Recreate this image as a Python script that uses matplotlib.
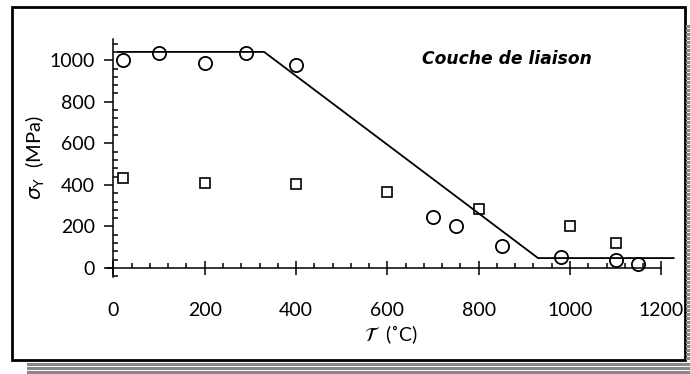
import matplotlib
matplotlib.use("Agg")
import matplotlib.pyplot as plt
from matplotlib.patches import Rectangle
from matplotlib.lines import Line2D
from matplotlib.ticker import MultipleLocator

# data
T_circ = [20, 100, 200, 290, 400, 700, 750, 850, 980, 1100, 1150]
S_circ = [1003, 1033, 987, 1033, 978, 247, 203, 104, 51, 41, 21]
T_sq = [20, 200, 400, 600, 800, 1000, 1100]
S_sq = [431, 411, 405, 367, 285, 204, 121]
T_fit = [10, 330, 930, 1227]
S_fit = [1040, 1040, 48, 48]

W, H = 690, 374
fig = plt.figure(figsize=(W / 100, H / 100), dpi=100)

def fx(px):
    return px / W

def fy(py):
    return 1 - py / H

# outer frame with grey shadow stripes
fig.add_artist(Rectangle((fx(12), fy(360)), fx(685) - fx(12), fy(7) - fy(360),
                         transform=fig.transFigure, fill=False, ec='black', lw=2))
for y in [363.5, 367.5, 371.5]:
    fig.add_artist(Line2D([fx(28), fx(690)], [fy(y), fy(y)], transform=fig.transFigure,
                          color='#888888', lw=2.2))
for y in range(26, 360, 4):
    fig.add_artist(Line2D([fx(686.5), fx(690)], [fy(y), fy(y)], transform=fig.transFigure,
                          color='#888888', lw=2.2))

ax = fig.add_axes([fx(106.6), fy(277.4), fx(675) - fx(106.6), fy(38.4) - fy(277.4)])
ax.set_xlim(-15, 1230)
ax.set_ylim(-45, 1105)

ax.plot(T_fit, S_fit, '-', color='black', lw=1.3)
ax.plot(T_circ, S_circ, 'o', mfc='none', mec='black', ms=9.5, mew=1.3)
ax.plot(T_sq, S_sq, 's', mfc='none', mec='black', ms=6.5, mew=1.2)

for s in ['top', 'right']:
    ax.spines[s].set_visible(False)
ax.spines['left'].set_position(('data', 0))
ax.spines['bottom'].set_position(('data', 0))
ax.spines['left'].set_bounds(-42, 1100)
ax.spines['bottom'].set_bounds(-15, 1200)
ax.spines['left'].set_linewidth(1.1)
ax.spines['bottom'].set_linewidth(1.1)

ax.xaxis.set_major_locator(MultipleLocator(200))
ax.xaxis.set_minor_locator(MultipleLocator(40))
ax.yaxis.set_major_locator(MultipleLocator(200))
ax.yaxis.set_minor_locator(MultipleLocator(40))

ax.tick_params(axis='x', which='major', direction='inout', length=9.5, width=1.1, pad=20,
               labelsize=14)
ax.tick_params(axis='x', which='minor', direction='in', length=3.6, width=1.1)
ax.tick_params(axis='y', which='major', direction='out', length=6.5, width=1.1, pad=7,
               labelsize=14)
ax.tick_params(axis='y', which='minor', direction='in', length=3.6, width=1.1)
for lab in ax.get_xticklabels() + ax.get_yticklabels():
    lab.set_fontfamily('Lato')

ax.set_xlabel(r'$\mathcal{T}\ $ (˚C)', fontsize=14, family='Lato', labelpad=3)
ax.set_ylabel(r'$\sigma_{\rm Y}$  (MPa)', fontsize=14.5, family='Lato', labelpad=2)

ax.text(0.555, 0.915, 'Couche de liaison', transform=ax.transAxes, fontsize=12.3,
        style='italic', weight='bold', family='DejaVu Sans', ha='left', va='center')

fig.savefig('out.png', dpi=100)
